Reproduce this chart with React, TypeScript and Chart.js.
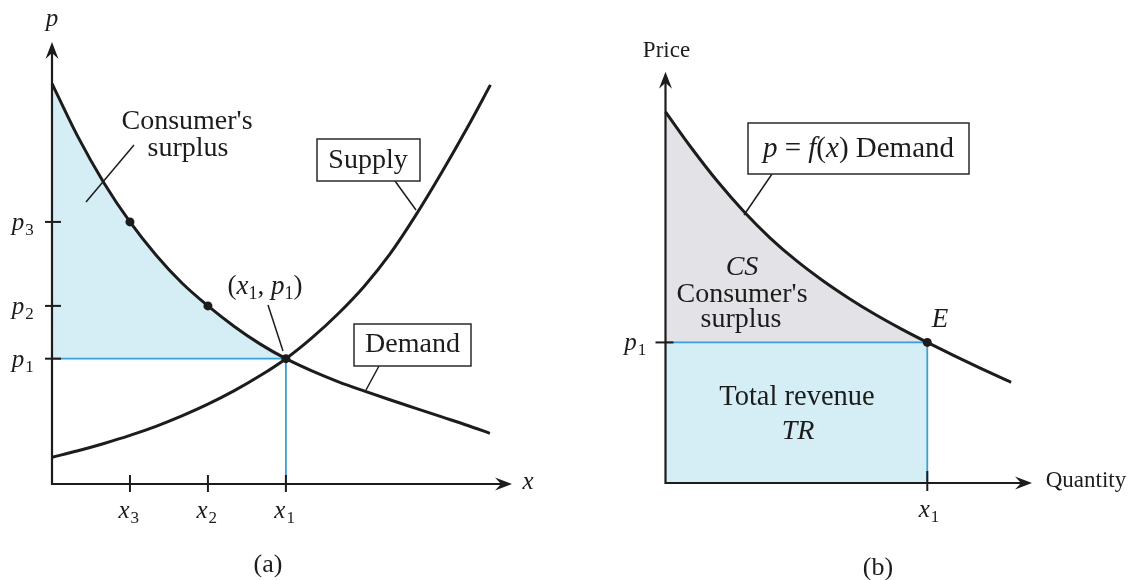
import React, { useEffect, useRef } from "react";
import { Chart, registerables } from "chart.js";

Chart.register(...registerables);

// ---------------- Panel (a) data ----------------
const demandQtyA = [0, 1, 2, 3, 4, 5, 6, 7, 8, 9, 10, 11, 12, 13, 14, 15, 16, 16.85];
const demandPriceA = [15.4, 13.35, 11.58, 10.08, 8.81, 7.73, 6.85, 6.07, 5.39, 4.82, 4.35, 3.94, 3.58, 3.24, 2.91, 2.58, 2.25, 1.95];
const supplyQtyA = [0, 1, 2, 3, 4, 5, 6, 7, 8, 9, 10, 11, 12, 13, 14, 15, 16, 16.87];
const supplyPriceA = [1.03, 1.28, 1.56, 1.87, 2.22, 2.62, 3.07, 3.58, 4.16, 4.82, 5.62, 6.54, 7.59, 8.84, 10.34, 11.99, 13.74, 15.35];
const markQtyA = [3, 6, 9]; // x3, x2, x1
const markPriceA = [10.08, 6.85, 4.82]; // p3, p2, p1
const markSubA = ["3", "2", "1"];
const axisMaxXA = 17.7;
const axisMaxYA = 17;

// ---------------- Panel (b) data ----------------
const demandQtyB = [0, 1, 2, 3, 4, 5, 6, 7, 8, 9, 10, 11, 12, 13, 13.2];
const demandPriceB = [14.26, 12.86, 11.57, 10.42, 9.41, 8.54, 7.78, 7.1, 6.48, 5.92, 5.4, 4.9, 4.42, 3.96, 3.87];
const eqQtyB = 10; // x1
const eqPriceB = 5.4; // p1
const axisMaxXB = 14;
const axisMaxYB = 15.8;

// ---------------- styles ----------------
const SERIF = '"Liberation Serif", "Times New Roman", serif';
const INK = "#1c1c1c";
const BLUE = "#3a9fd6";
const BLUE_FILL = "#d5eef5";
const GRAY_FILL = "#e3e3e7";

const pts = (xs: number[], ys: number[]) => xs.map((x, i) => ({ x, y: ys[i] }));

function line(ctx: CanvasRenderingContext2D, x1: number, y1: number, x2: number, y2: number, w = 1.5, c = INK) {
  ctx.save();
  ctx.strokeStyle = c;
  ctx.lineWidth = w;
  ctx.beginPath();
  ctx.moveTo(x1, y1);
  ctx.lineTo(x2, y2);
  ctx.stroke();
  ctx.restore();
}

function arrow(ctx: CanvasRenderingContext2D, x: number, y: number, up: boolean) {
  ctx.save();
  ctx.translate(x, y);
  if (up) ctx.rotate(-Math.PI / 2);
  ctx.fillStyle = INK;
  ctx.beginPath();
  ctx.moveTo(0, 0);
  ctx.lineTo(-17, -6.5);
  ctx.lineTo(-11, 0);
  ctx.lineTo(-17, 6.5);
  ctx.closePath();
  ctx.fill();
  ctx.restore();
}

function text(ctx: CanvasRenderingContext2D, s: string, x: number, y: number, size: number, italic = false, align: CanvasTextAlign = "center", base: CanvasTextBaseline = "middle") {
  ctx.save();
  ctx.fillStyle = INK;
  ctx.font = `${italic ? "italic " : ""}${size}px ${SERIF}`;
  ctx.textAlign = align;
  ctx.textBaseline = base;
  ctx.fillText(s, x, y);
  ctx.restore();
}

// italic letter with upright subscript digit; cx = centre of letter, baseline = letter baseline
function subLabel(ctx: CanvasRenderingContext2D, letter: string, sub: string, cx: number, baseline: number, size = 25) {
  ctx.save();
  ctx.fillStyle = INK;
  ctx.font = `italic ${size}px ${SERIF}`;
  ctx.textAlign = "center";
  ctx.textBaseline = "alphabetic";
  const w = ctx.measureText(letter).width;
  ctx.fillText(letter, cx, baseline);
  ctx.font = `${Math.round(size * 0.66)}px ${SERIF}`;
  ctx.textAlign = "left";
  ctx.fillText(sub, cx + w / 2 + 1, baseline + 5);
  ctx.restore();
}

// runs of [text, italic, subscript]
function runs(ctx: CanvasRenderingContext2D, parts: [string, boolean, boolean][], x: number, baseline: number, size: number, center = false) {
  ctx.save();
  ctx.fillStyle = INK;
  ctx.textBaseline = "alphabetic";
  ctx.textAlign = "left";
  const fontOf = (p: [string, boolean, boolean]) =>
    p[2] ? `${Math.round(size * 0.66)}px ${SERIF}` : `${p[1] ? "italic " : ""}${size}px ${SERIF}`;
  let total = 0;
  for (const p of parts) {
    ctx.font = fontOf(p);
    total += ctx.measureText(p[0]).width;
  }
  let cx = center ? x - total / 2 : x;
  for (const p of parts) {
    ctx.font = fontOf(p);
    ctx.fillText(p[0], cx, baseline + (p[2] ? 5 : 0));
    cx += ctx.measureText(p[0]).width;
  }
  ctx.restore();
}

function box(ctx: CanvasRenderingContext2D, x: number, y: number, w: number, h: number) {
  ctx.save();
  ctx.strokeStyle = "#2a2a2a";
  ctx.lineWidth = 1.5;
  ctx.fillStyle = "#fff";
  ctx.fillRect(x, y, w, h);
  ctx.strokeRect(x, y, w, h);
  ctx.restore();
}

const baseOptions = (padding: any, xmax: number, ymax: number) => ({
  responsive: false,
  animation: false as const,
  devicePixelRatio: 1,
  events: [] as any[],
  layout: { padding },
  plugins: { legend: { display: false }, tooltip: { enabled: false } },
  scales: {
    x: { type: "linear" as const, min: 0, max: xmax, display: false },
    y: { type: "linear" as const, min: 0, max: ymax, display: false },
  },
  elements: { point: { radius: 0 }, line: { tension: 0 } },
});

const decorA = {
  id: "decorA",
  afterDraw(chart: any) {
    const ctx: CanvasRenderingContext2D = chart.ctx;
    const xs = chart.scales.x;
    const ys = chart.scales.y;
    const ox = xs.getPixelForValue(0);
    const oy = ys.getPixelForValue(0);
    const xe = xs.getPixelForValue(axisMaxXA);
    const ye = ys.getPixelForValue(axisMaxYA);
    // axes
    line(ctx, ox, oy, xe - 8, oy, 2.2);
    line(ctx, ox, oy + 1, ox, ye + 8, 2.2);
    arrow(ctx, xe, oy, false);
    arrow(ctx, ox, ye, true);
    text(ctx, "p", ox, ye - 16, 25, true, "center", "alphabetic");
    text(ctx, "x", xe + 16, oy + 5, 25, true, "center", "alphabetic");
    // ticks
    markQtyA.forEach((q, i) => {
      const tx = xs.getPixelForValue(q);
      line(ctx, tx, oy - 9, tx, oy + 8, 2);
      subLabel(ctx, "x", markSubA[i], tx - 6, oy + 34);
    });
    markPriceA.forEach((p, i) => {
      const ty = ys.getPixelForValue(p);
      line(ctx, ox - 7, ty, ox + 9, ty, 2);
      subLabel(ctx, "p", markSubA[i], ox - 34, ty + 8);
    });
    // consumer's surplus label
    text(ctx, "Consumer's", 187, 122, 28);
    text(ctx, "surplus", 188, 149, 28);
    line(ctx, 134, 145, 86, 202, 1.5);
    // supply box
    line(ctx, 395, 181, 416, 210, 1.5);
    box(ctx, 317, 139, 103, 42);
    text(ctx, "Supply", 368, 161, 28);
    // demand box
    line(ctx, 379, 366, 366, 390, 1.5);
    box(ctx, 354, 324, 117, 42);
    text(ctx, "Demand", 412.5, 345, 28);
    // (x1, p1)
    runs(ctx, [["(", false, false], ["x", true, false], ["1", false, true], [", ", false, false], ["p", true, false], ["1", false, true], [")", false, false]], 265, 294, 27, true);
    line(ctx, 268, 305, 283, 351, 1.5);
    text(ctx, "(a)", 268, 565, 26);
  },
};

const decorB = {
  id: "decorB",
  afterDraw(chart: any) {
    const ctx: CanvasRenderingContext2D = chart.ctx;
    const xs = chart.scales.x;
    const ys = chart.scales.y;
    const ox = xs.getPixelForValue(0);
    const oy = ys.getPixelForValue(0);
    const xe = xs.getPixelForValue(axisMaxXB);
    const ye = ys.getPixelForValue(axisMaxYB);
    line(ctx, ox, oy, xe - 8, oy, 2.2);
    line(ctx, ox, oy + 1, ox, ye + 8, 2.2);
    arrow(ctx, xe, oy, false);
    arrow(ctx, ox, ye, true);
    text(ctx, "Price", ox + 1, ye - 21, 23);
    text(ctx, "Quantity", xe + 54, oy - 2, 23);
    // ticks
    const tx = xs.getPixelForValue(eqQtyB);
    line(ctx, tx, oy - 12, tx, oy + 8, 2);
    subLabel(ctx, "x", "1", tx - 3, oy + 34);
    const ty = ys.getPixelForValue(eqPriceB);
    line(ctx, ox - 10, ty, ox + 8, ty, 2);
    subLabel(ctx, "p", "1", ox - 35, ty + 8);
    // demand label box
    line(ctx, 207, 174, 179, 215, 1.5);
    box(ctx, 183, 123, 221, 51);
    runs(ctx, [["p", true, false], [" = ", false, false], ["f", true, false], ["(", false, false], ["x", true, false], [") Demand", false, false]], 293.5, 157, 29, true);
    // texts
    text(ctx, "CS", 177, 268, 28, true);
    text(ctx, "Consumer's", 177, 295, 28);
    text(ctx, "surplus", 176, 320, 28);
    text(ctx, "E", 375, 320, 27, true);
    text(ctx, "Total revenue", 232, 398, 28.5);
    text(ctx, "TR", 233, 432, 28, true);
    text(ctx, "(b)", 313, 568, 26);
  },
};

export default function App() {
  const refA = useRef<HTMLCanvasElement>(null);
  const refB = useRef<HTMLCanvasElement>(null);

  useEffect(() => {
    const p1 = markPriceA[2];
    const x1 = markQtyA[2];
    const demand = pts(demandQtyA, demandPriceA);
    const supply = pts(supplyQtyA, supplyPriceA);
    const cs = demand.filter((d) => d.x <= x1);
    const chartA = new Chart(refA.current as HTMLCanvasElement, {
      type: "line",
      data: {
        datasets: [
          { data: cs, fill: { value: p1 }, backgroundColor: BLUE_FILL, borderWidth: 0, borderColor: "rgba(0,0,0,0)", cubicInterpolationMode: "monotone", order: 10 } as any,
          { data: [{ x: 0, y: p1 }, { x: x1, y: p1 }], borderColor: BLUE, borderWidth: 1.8, fill: false, order: 8 },
          { data: [{ x: x1, y: 0 }, { x: x1, y: p1 }], borderColor: BLUE, borderWidth: 1.8, fill: false, order: 8 },
          { data: demand, borderColor: INK, borderWidth: 3, fill: false, cubicInterpolationMode: "monotone", clip: false, order: 5 } as any,
          { data: supply, borderColor: INK, borderWidth: 3, fill: false, cubicInterpolationMode: "monotone", clip: false, order: 5 } as any,
          {
            data: pts(markQtyA, markPriceA),
            showLine: false,
            pointRadius: 4.5,
            pointBackgroundColor: INK,
            pointBorderWidth: 0,
            order: 1,
          } as any,
        ],
      },
      options: baseOptions({ left: 52, right: 53, top: 42, bottom: 96 }, axisMaxXA, axisMaxYA) as any,
      plugins: [decorA],
    });

    const demandB = pts(demandQtyB, demandPriceB);
    const csB = demandB.filter((d) => d.x <= eqQtyB);
    const chartB = new Chart(refB.current as HTMLCanvasElement, {
      type: "line",
      data: {
        datasets: [
          { data: csB, fill: { value: eqPriceB }, backgroundColor: GRAY_FILL, borderWidth: 0, borderColor: "rgba(0,0,0,0)", cubicInterpolationMode: "monotone", order: 10 } as any,
          { data: [{ x: 0, y: eqPriceB }, { x: eqQtyB, y: eqPriceB }], fill: "origin", backgroundColor: BLUE_FILL, borderColor: BLUE, borderWidth: 1.8, order: 9 } as any,
          { data: [{ x: eqQtyB, y: 0 }, { x: eqQtyB, y: eqPriceB }], borderColor: BLUE, borderWidth: 1.8, fill: false, order: 8 },
          { data: demandB, borderColor: INK, borderWidth: 3, fill: false, cubicInterpolationMode: "monotone", clip: false, order: 5 } as any,
          {
            data: [{ x: eqQtyB, y: eqPriceB }],
            showLine: false,
            pointRadius: 4.5,
            pointBackgroundColor: INK,
            pointBorderWidth: 0,
            order: 1,
          } as any,
        ],
      },
      options: baseOptions({ left: 100.5, right: 99, top: 71.7, bottom: 97 }, axisMaxXB, axisMaxYB) as any,
      plugins: [decorB],
    });

    return () => {
      chartA.destroy();
      chartB.destroy();
    };
  }, []);

  return (
    <div style={{ position: "fixed", left: 0, top: 0, width: 1131, height: 580, background: "#fff", overflow: "hidden" }}>
      <canvas ref={refA} width={565} height={580} style={{ position: "absolute", left: 0, top: 0, width: 565, height: 580 }} />
      <canvas ref={refB} width={566} height={580} style={{ position: "absolute", left: 565, top: 0, width: 566, height: 580 }} />
    </div>
  );
}
